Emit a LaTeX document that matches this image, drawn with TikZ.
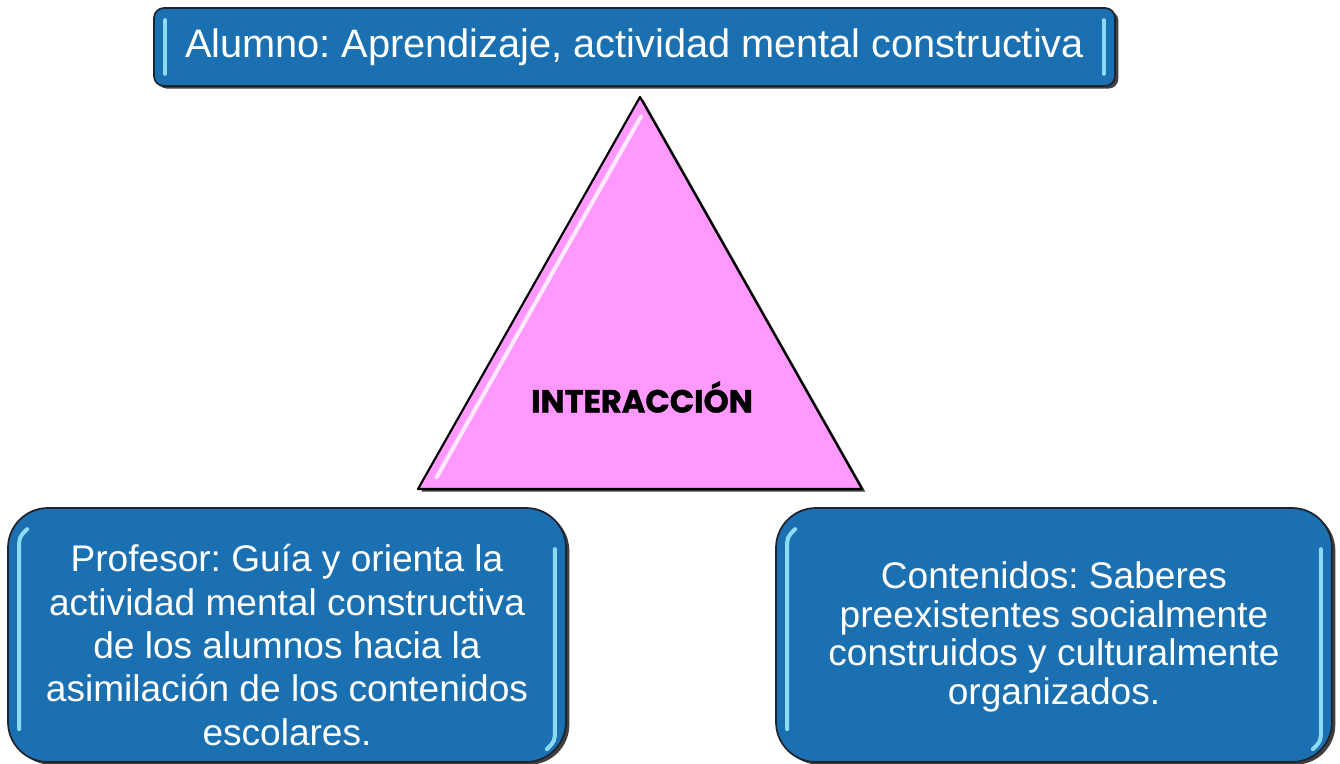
\documentclass[tikz,border=0pt]{standalone}
\usepackage{fontspec}
\setmainfont{Liberation Sans}
\newfontfamily\popfont{Poppins}[BoldFeatures={FakeBold=1.2}]
\usetikzlibrary{calc,shadows}
\frenchspacing
\definecolor{boxblue}{RGB}{27,112,178}
\definecolor{boxedge}{RGB}{30,36,48}
\definecolor{hilite}{RGB}{140,218,246}
\definecolor{pinkfill}{RGB}{255,153,255}
\tikzset{
  shadowed/.style={drop shadow={shadow xshift=2.5pt,shadow yshift=-2pt,opacity=0.75,fill=black}},
  topbox/.style={shadowed,draw=boxedge,line width=1.3pt,fill=boxblue,rounded corners=7.5pt,
    minimum width=720.75pt,minimum height=58.5pt,inner sep=0pt,text=white,
    font=\fontsize{29.8}{34}\selectfont},
  bigbox/.style={shadowed,draw=boxedge,line width=1.3pt,fill=boxblue,rounded corners=30pt,
    minimum height=190.5pt,inner sep=0pt},
  boxtext/.style={text=white,align=center,inner sep=0pt},
  bar/.style={draw=hilite,line width=3pt,line cap=round},
  tri/.style={shadowed,draw=black,line width=1.6pt,fill=pinkfill,line join=round},
  streak/.style={draw=white,line width=3pt,line cap=round,opacity=0.8},
}
\begin{document}
\begin{tikzpicture}[x=0.75pt,y=-0.75pt]
\useasboundingbox (0,0) rectangle (1340,764);
% top box
\node[topbox] (alumno) at (634.5,47) {Alumno: Aprendizaje, actividad mental constructiva};
\draw[bar] ($(alumno.north west)+(12,13)$) -- ($(alumno.south west)+(12,-13)$);
\draw[bar] ($(alumno.north east)+(-12,13)$) -- ($(alumno.south east)+(-12,-13)$);
% triangle
\coordinate (apex) at (640,97);
\coordinate (bl) at (418,489);
\coordinate (br) at (862,489);
\draw[tri] (apex) -- (br) -- (bl) -- cycle;
\draw[streak] ($(apex)!0.05!(bl)+(12,0)$) -- ($(apex)!0.97!(bl)+(12,0)$);
\node[font=\popfont\bfseries\fontsize{24}{28}\selectfont,inner sep=0pt] (inter) at (642,397) {INTERACCIÓN};
% bottom left box
\node[bigbox,minimum width=418.5pt] (prof) at (287,635) {};
\node[boxtext,font=\fontsize{27.8}{32.6}\selectfont] (proftext) at ($(prof.center)+(0,10)$)
  {Profesor: Guía y orienta la\\actividad mental constructiva\\de los alumnos hacia la\\asimilación de los contenidos\\escolares.};
\draw[bar] ($(prof.north west)+(12,222)$) -- ($(prof.north west)+(12,42)$) .. controls ($(prof.north west)+(12,30)$) .. ($(prof.north west)+(20,22)$);
\draw[bar] ($(prof.north east)+(-12,42)$) -- ($(prof.north east)+(-12,222)$) .. controls ($(prof.north east)+(-12,234)$) .. ($(prof.north east)+(-20,242)$);
% bottom right box
\node[bigbox,minimum width=417pt] (cont) at (1054,635) {};
\node[boxtext,font=\fontsize{27.8}{28.9}\selectfont] (conttext) at ($(cont.center)+(0,2)$)
  {Contenidos: Saberes\\preexistentes socialmente\\construidos y culturalmente\\organizados.};
\draw[bar] ($(cont.north west)+(12,222)$) -- ($(cont.north west)+(12,42)$) .. controls ($(cont.north west)+(12,30)$) .. ($(cont.north west)+(20,22)$);
\draw[bar] ($(cont.north east)+(-12,42)$) -- ($(cont.north east)+(-12,222)$) .. controls ($(cont.north east)+(-12,234)$) .. ($(cont.north east)+(-20,242)$);
\end{tikzpicture}
\end{document}
